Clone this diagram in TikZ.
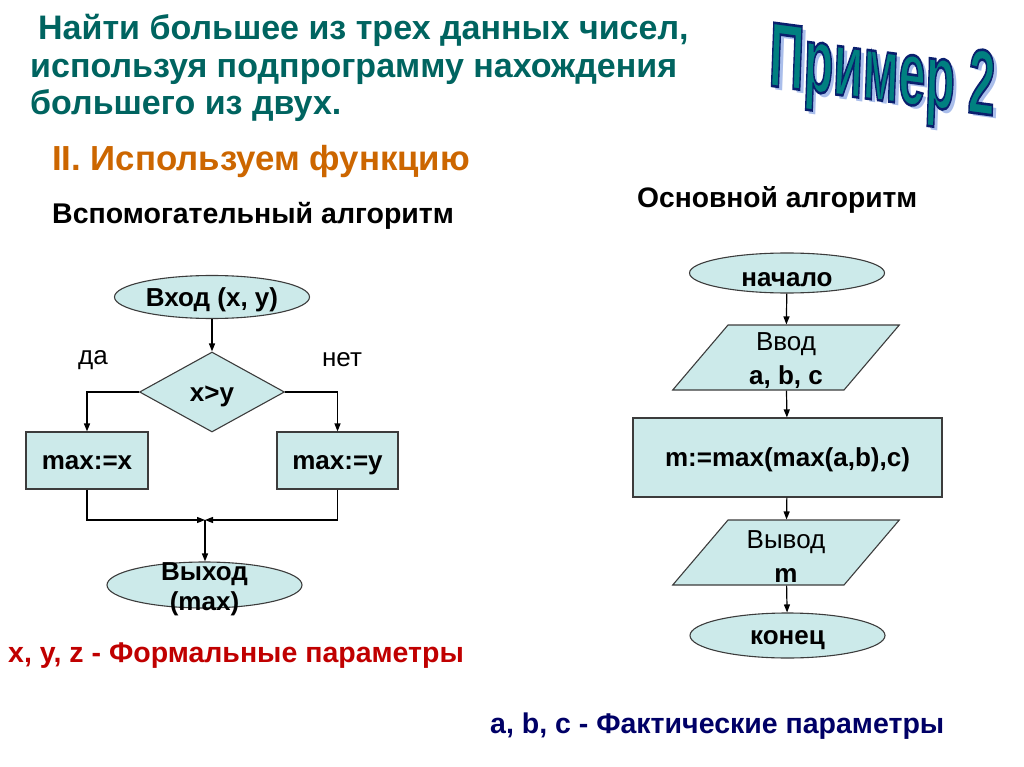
\documentclass[tikz,border=0pt]{standalone}
\usepackage{fontspec}
\setmainfont{Liberation Sans}
\usetikzlibrary{shapes.geometric,arrows.meta}
\definecolor{boxfill}{RGB}{204,234,234}
\definecolor{boxline}{RGB}{60,60,60}
\definecolor{titlec}{RGB}{0,100,96}
\definecolor{orangec}{RGB}{204,102,0}
\definecolor{redc}{RGB}{192,0,0}
\definecolor{navyc}{RGB}{0,0,102}
\definecolor{waFill}{RGB}{0,128,128}
\definecolor{waShadow}{RGB}{170,190,235}
\tikzset{
  fc/.style={draw=boxline, line width=1.1pt, fill=boxfill, inner sep=0pt, font=\fontsize{26}{34}\selectfont\bfseries, align=center},
  one/.style={text height=18.6pt, text depth=0pt},
  term/.style={fc, ellipse},
  proc/.style={fc, rectangle},
  cond/.style={fc, diamond},
  io/.style={fc, trapezium, trapezium left angle=60, trapezium right angle=120, trapezium stretches=true},
  inlbl/.style={inner sep=0pt, align=center, font=\fontsize{26}{34}\selectfont},
  conn/.style={line width=1.2pt, draw=black, -{Triangle[length=8pt,width=6pt]}},
  txt/.style={inner sep=0pt, anchor=base west},
  wa/.style={inner sep=0pt, font=\fontsize{46}{50}\selectfont\bfseries, xscale=1.05, yscale=2.0, rotate=-4}
}
\begin{document}
\begin{tikzpicture}[x=1pt,y=-1pt]
\useasboundingbox (0,0) rectangle (1024,767);
% Title
\node[txt, text=titlec, font=\fontsize{34}{37}\selectfont\bfseries] (t1) at (38,40) {Найти большее из трех данных чисел,};
\node[txt, text=titlec, font=\fontsize{34}{37}\selectfont\bfseries] (t2) at (30,78) {используя подпрограмму нахождения};
\node[txt, text=titlec, font=\fontsize{34}{37}\selectfont\bfseries] (t3) at (30,115) {большего из двух.};
\node[txt, text=orangec, font=\fontsize{34.8}{37}\selectfont\bfseries] (t4) at (52,171) {II. Используем функцию};
\node[txt, font=\fontsize{28.5}{30}\selectfont\bfseries] (h1) at (52,223) {Вспомогательный алгоритм};
\node[txt, font=\fontsize{28.2}{30}\selectfont\bfseries] (h2) at (637,208) {Основной алгоритм};
\node[txt, text=redc, font=\fontsize{28.5}{30}\selectfont\bfseries] (f1) at (8,662) {x, y, z - Формальные параметры};
\node[txt, text=navyc, font=\fontsize{28.5}{30}\selectfont\bfseries] (f2) at (490,733) {a, b, c - Фактические параметры};
% WordArt
\node[wa, text=waShadow] (w0) at (886,82) {Пример 2};
\node[wa] (w1) at (882,78) {\color{waFill}\special{pdf:literal direct 0.04 0.12 0.43 RG 1.3 w 2 Tr}Пример 2\special{pdf:literal direct 0 Tr}};
% Left flowchart
\node[term, one, minimum width=195pt, minimum height=43pt] (vin) at (212,297) {Вход (x, y)};
\node[cond, one, minimum width=145pt, minimum height=80pt] (dia) at (212,392) {x>y};
\node[proc, one, minimum width=122pt, minimum height=57pt] (bx) at (87,460.5) {max:=x};
\node[proc, one, minimum width=121pt, minimum height=57pt] (by) at (337.5,460.5) {max:=y};
\node[term, minimum width=195pt, minimum height=46pt] (vout) at (204.5,585) {};
\node[inlbl, font=\fontsize{26}{30}\selectfont\bfseries] (voutl) at (204.5,589) {Выход\\(max)};
\node[inner sep=0pt, font=\fontsize{26}{30}\selectfont] (da) at (93,360) {да};
\node[inner sep=0pt, font=\fontsize{26}{30}\selectfont] (net) at (342,360) {нет};
\coordinate (mrg) at (205,520);
\draw[conn] (vin) -- (dia);
\draw[conn] (dia.west) -| (bx.north);
\draw[conn] (dia.east) -| (by.north);
\draw[conn] (bx.south) |- (mrg);
\draw[conn] (by.south) |- (mrg);
\draw[conn] (mrg) -- (mrg |- vout.north);
% Right flowchart
\node[term, one, text height=26pt, minimum width=195pt, minimum height=40pt] (st) at (787,273) {начало};
\node[io, minimum width=227pt, minimum height=65pt] (inp) at (786,357.5) {\phantom{M}};
\node[inlbl] (inpl) at (786,361) {Ввод\\\textbf{a, b, c}};
\node[proc, one, minimum width=309pt, minimum height=79pt] (calc) at (787.5,457.5) {m:=max(max(a,b),c)};
\node[io, minimum width=227pt, minimum height=65pt] (outp) at (786,552.5) {\phantom{M}};
\node[inlbl] (outpl) at (786,557) {Вывод\\\textbf{m}};
\node[term, one, minimum width=195pt, minimum height=45pt] (en) at (787.5,635.5) {конец};
\draw[conn] (st) -- (inp);
\draw[conn] (inp) -- (calc);
\draw[conn] (calc) -- (outp);
\draw[conn] (outp) -- (en);
\end{tikzpicture}
\end{document}
